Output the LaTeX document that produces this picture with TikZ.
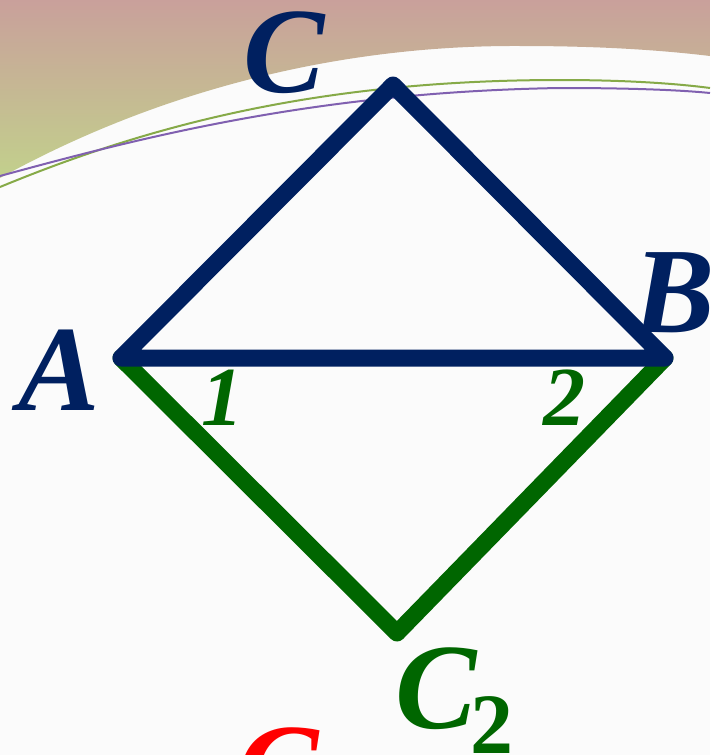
\documentclass[tikz,border=0pt]{standalone}
\usepackage{fontspec}
\setmainfont{Liberation Serif}
\definecolor{navy}{RGB}{0,32,96}
\definecolor{dkgreen}{RGB}{0,102,0}
\definecolor{bandtop}{RGB}{201,160,155}
\definecolor{bandbot}{RGB}{194,208,140}
\definecolor{paper}{RGB}{251,251,251}
\definecolor{thingreen}{RGB}{134,170,72}
\definecolor{thinpurple}{RGB}{128,96,176}
\begin{document}
\begin{tikzpicture}[x=1pt,y=-1pt,
  side/.style={line width=17pt,line join=round,line cap=round},
  thin/.style={line width=2pt},
  bigl/.style={inner sep=0pt,anchor=base,font=\fontsize{122}{122}\selectfont\bfseries\itshape},
  angl/.style={inner sep=0pt,anchor=base,font=\fontsize{84}{84}\selectfont\bfseries\itshape,text=dkgreen},
  subl/.style={inner sep=0pt,anchor=base,font=\fontsize{86}{86}\selectfont\bfseries,text=dkgreen}]
\useasboundingbox (0,0) rectangle (710,755);
\clip (0,0) rectangle (710,755);
% background
\fill[paper] (0,0) rectangle (710,755);
\shade[top color=bandtop,bottom color=bandbot]
  (0,0) -- (710,0) -- (710,56)
  .. controls (660,50) and (600,46) .. (520,46)
  .. controls (330,45) and (150,95) .. (0,178) -- cycle;
\draw[thin,thingreen] (0,187) .. controls (150,125) and (320,80) .. (560,80)
  .. controls (630,80) and (680,84) .. (710,88);
\draw[thin,thinpurple] (0,176) .. controls (150,135) and (320,92) .. (560,88)
  .. controls (630,88) and (680,90) .. (710,93);
% vertices
\coordinate (A) at (121,358);
\coordinate (B) at (665,358);
\coordinate (C) at (393,85);
\coordinate (C2) at (397,633);
% triangles
\draw[side,dkgreen] (A) -- (C2) -- (B);
\draw[side,navy] (A) -- (C) -- (B) -- cycle;
% labels
\node[bigl,text=navy] (lC) at (284,92) {C};
\node[bigl,text=navy] (lA) at (59,410) {A};
\node[bigl,text=navy] (lB) at (674,332) {B};
\node[angl] (l1) at (222,425) {1};
\node[angl] (l2) at (564,425) {2};
\node[bigl,text=dkgreen] (lC2) at (436,728) {C};
\node[subl] (lC2s) at (492,753) {2};
\node[bigl,text=red] (lC1) at (278,808) {C};
\end{tikzpicture}
\end{document}
